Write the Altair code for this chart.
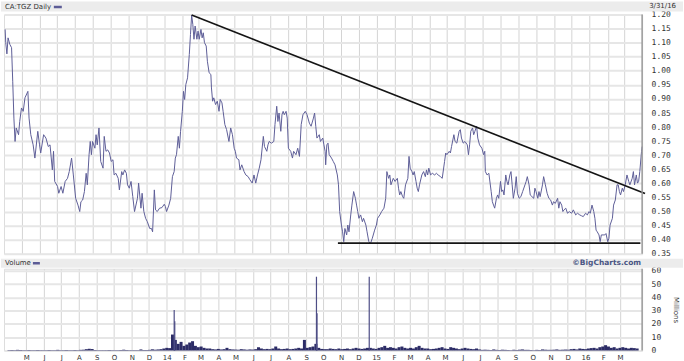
import altair as alt
import pandas as pd

START = pd.Timestamp("2013-04-01")

# (calendar-day offset from START, close)
price_2013 = [(2,1.147),(3,1.100),(5,1.060),(7,1.117),(10,1.094),(13,1.082),(15,0.963),(17,0.832),(19,0.749),(21,0.797),
 (25,0.773),(27,0.820),(30,0.868),(33,0.856),(36,0.904),(41,0.927),(43,0.832),(46,0.773),(50,0.737),(53,0.690),
 (58,0.785),(61,0.737),(63,0.708),(68,0.773),(72,0.761),(76,0.731),(79,0.737),(83,0.648),(85,0.714),(87,0.607),
 (92,0.589),(94,0.565),(98,0.589),(101,0.565),(105,0.607),(109,0.618),(112,0.642),(116,0.690),(119,0.630),(123,0.547),
 (127,0.523),(130,0.500),(132,0.535),(135,0.541),(138,0.571),(141,0.636),(143,0.595),(146,0.702),(148,0.749),(150,0.702),
 (152,0.749),(156,0.725),(158,0.773),(160,0.737),(163,0.797),(166,0.678),(170,0.654),(172,0.767),(175,0.714),(178,0.719),
 (181,0.708),(184,0.678),(187,0.684),(189,0.630),(192,0.636),(196,0.618),(198,0.577),(202,0.642),(204,0.630),(207,0.648),
 (210,0.636),(212,0.595),(215,0.583),(218,0.607),(221,0.553),(224,0.500),(229,0.547),(231,0.601),(235,0.512),(237,0.565),
 (240,0.500),(243,0.476),(246,0.464),(250,0.440),(253,0.440),(255,0.428),(258,0.577),(260,0.506),(263,0.500),(267,0.512),
 (271,0.514)]
price_2014 = [(275,0.526),(277,0.518),(279,0.500),(283,0.523),(286,0.547),(289,0.624),(292,0.642),(294,0.690),(296,0.702),
 (299,0.767),(301,0.725),(303,0.785),(306,0.856),(308,0.927),(310,0.898),(312,0.951),(315,0.975),(318,1.058),(320,1.129),
 (322,1.198),(324,1.165),(326,1.112),(328,1.159),(331,1.112),(333,1.141),(335,1.112),(338,1.147),(340,1.117),(342,1.135),
 (344,1.100),(347,1.088),(349,1.034),(352,0.993),(355,0.987),(356,0.939),(358,0.892),(360,0.904),(363,0.880),(366,0.892),
 (369,0.856),(371,0.898),(374,0.886),(376,0.856),(379,0.809),(382,0.791),(386,0.749),(389,0.797),(392,0.773),(395,0.725),
 (397,0.714),(399,0.690),(403,0.684),(405,0.648),(408,0.666),(412,0.642),(415,0.630),(419,0.624),(422,0.613),(426,0.601),
 (429,0.630),(432,0.601),(435,0.630),(438,0.654),(441,0.684),(445,0.767),(447,0.731),(451,0.714),(453,0.737),(455,0.749),
 (459,0.743),(463,0.749),(465,0.809),(468,0.874),(470,0.820),(472,0.850),(475,0.785),(477,0.844),(479,0.856),(481,0.844),
 (484,0.856),(486,0.832),(488,0.725),(492,0.714),(495,0.690),(497,0.714),(501,0.702),(504,0.725),(507,0.696),(510,0.809),
 (513,0.844),(517,0.856),(520,0.844),(524,0.814),(527,0.803),(531,0.832),(533,0.850),(535,0.803),(537,0.761),(541,0.773),
 (543,0.749),(547,0.761),(549,0.737),(551,0.714),(552,0.666),(554,0.737),(556,0.743),(558,0.702),(562,0.690),(565,0.678),
 (568,0.666),(572,0.630),(574,0.595),(576,0.500),(579,0.452),(581,0.428),(583,0.393),(585,0.440),(588,0.417),(590,0.452),
 (592,0.428),(595,0.488),(597,0.523),(600,0.571),(603,0.547),(605,0.523),(607,0.500),(609,0.476),(612,0.488),(615,0.464),
 (617,0.476),(621,0.452),(623,0.428),(626,0.393),(629,0.387),(632,0.405),(636,0.434),(639,0.452)]
price_2015 = [(641,0.476),(645,0.488),(648,0.500),(652,0.512),(655,0.547),(657,0.642),(660,0.618),(662,0.630),(664,0.595),
 (668,0.618),(671,0.607),(675,0.618),(677,0.583),(679,0.559),(681,0.571),(684,0.553),(686,0.547),(689,0.595),(693,0.618),
 (695,0.696),(697,0.654),(700,0.642),(702,0.630),(704,0.642),(707,0.607),(709,0.583),(711,0.571),(713,0.595),(717,0.630),
 (720,0.642),(723,0.624),(725,0.648),(727,0.630),(729,0.654),(732,0.630),(735,0.636),(739,0.630),(742,0.636),(745,0.630),
 (749,0.624),(752,0.618),(756,0.678),(758,0.708),(760,0.702),(764,0.714),(766,0.708),(768,0.731),(772,0.773),(774,0.749),
 (777,0.743),(781,0.785),(783,0.791),(785,0.761),(788,0.743),(791,0.749),(795,0.737),(797,0.702),(799,0.737),(801,0.785),
 (804,0.797),(806,0.773),(808,0.785),(811,0.803),(813,0.761),(816,0.737),(820,0.725),(823,0.702),(825,0.714),(826,0.642),
 (829,0.630),(832,0.636),(836,0.571),(838,0.535),(840,0.523),(842,0.512),(845,0.547),(847,0.559),(849,0.547),(852,0.607),
 (854,0.571),(856,0.577),(858,0.559),(861,0.630),(863,0.607),(865,0.595),(868,0.630),(870,0.642),(872,0.595),(874,0.547),
 (877,0.583),(879,0.624),(881,0.565),(884,0.547),(887,0.553),(890,0.571),(894,0.595),(896,0.607),(898,0.624),(901,0.595),
 (903,0.559),(906,0.553),(909,0.547),(911,0.583),(913,0.571),(916,0.547),(918,0.571),(920,0.553),(924,0.595),(926,0.624),
 (929,0.595),(932,0.565),(935,0.547),(938,0.541),(941,0.523),(943,0.535),(946,0.529),(950,0.547),(952,0.512),(954,0.535),
 (957,0.523),(959,0.500),(961,0.506),(964,0.512),(967,0.494),(970,0.500),(974,0.494),(977,0.506),(981,0.488),(984,0.494),
 (988,0.488),(991,0.485),(994,0.482),(998,0.494),(1001,0.488),(1004,0.500)]
price_2016 = [(1006,0.494),(1009,0.523),(1012,0.500),(1014,0.476),(1016,0.434),(1018,0.428),(1021,0.417),(1023,0.393),
 (1025,0.417),(1028,0.417),(1031,0.417),(1033,0.422),(1036,0.393),(1038,0.405),(1040,0.452),(1044,0.476),(1046,0.523),
 (1049,0.541),(1052,0.595),(1054,0.595),(1056,0.571),(1058,0.559),(1061,0.583),(1063,0.571),(1066,0.595),(1069,0.630),
 (1072,0.607),(1074,0.595),(1078,0.618),(1080,0.642),(1082,0.595),(1085,0.630),(1087,0.601),(1089,0.607),(1091,0.642),
 (1094,0.714),(1095,0.731)]

# trend lines (day offset, price)
resistance = [(322, 1.198), (1100, 0.564)]
support = [(573, 0.388), (1092, 0.388)]

# volume (millions), one reading every 5 days from START
vol_every5 = [0.3,0.4,0.3,0.5,0.4,0.3,0.3,0.4,0.3,0.3,0.4,0.3,0.3,0.3,0.4,0.3,0.3,0.5,0.3,0.3,0.4,0.3,0.3,0.4,0.3,0.5,0.6,
 1.0,1.3,1.1,
 0.4,0.3,0.3,0.3,0.3,0.4,0.3,0.3,0.3,0.4,0.6,0.4,0.3,0.3,0.3,0.3,0.8,0.4,0.4,0.5,0.9,0.6,
 0.8,1.0,1.5,2.0,1.8,
 12.0,8.0,
 5.0,6.5,3.5,4.5,6.0,7.0,3.5,2.5,3.0,2.0,1.5,
 1.5,1.0,0.8,1.2,0.8,1.0,2.0,1.0,0.8,0.7,0.6,1.0,0.8,0.6,0.8,0.7,1.0,2.5,1.5,1.0,1.2,1.0,1.5,3.0,1.5,1.0,1.2,1.5,
 1.0,1.2,1.5,2.0,1.5,8.0,2.0,2.5,3.0,5.0,
 2.0,1.2,1.0,1.0,1.5,1.2,1.0,1.5,1.0,1.2,1.5,1.0,1.5,2.0,1.5,1.2,1.5,2.0,
 2.0,1.5,1.2,2.0,2.5,3.5,2.0,2.5,2.0,1.5,2.5,3.0,2.0,1.5,2.0,1.5,2.5,3.5,2.0,1.5,1.5,1.0,1.2,1.5,2.0,2.5,1.5,1.2,2.5,2.0,1.5,1.0,1.5,2.0,1.5,1.2,1.0,1.5,
 0.8,0.5,0.6,0.5,0.4,0.8,0.5,0.4,0.6,0.5,0.4,0.3,0.5,0.4,0.6,0.8,0.5,0.5,0.4,0.3,0.5,0.4,0.8,0.6,0.5,0.5,0.6,0.8,0.5,0.6,0.7,0.6,
 1.0,1.2,0.8,1.5,1.2,1.0,1.5,1.8,2.0,1.5,2.5,3.0,4.0,3.0,2.0,2.5,1.5,2.0,2.5,2.0,1.5,2.0,1.8,1.5]
spike_days = [288, 289, 536, 537, 628]
spike_vols = [30.5, 22.0, 55.5, 28.0, 55.5]

price_ticks = [0.35,0.40,0.45,0.50,0.55,0.60,0.65,0.70,0.75,0.80,0.85,0.90,0.95,1.00,1.05,1.10,1.15,1.20]
vol_ticks = [0,10,20,30,40,50,60]
month_ticks = [(2013,m) for m in range(5,13)] + [(2014,m) for m in range(1,13)] + \
              [(2015,m) for m in range(1,13)] + [(2016,m) for m in range(1,4)]


def day_to_date(d):
    return START + pd.Timedelta(days=d)


price_df = pd.DataFrame(price_2013 + price_2014 + price_2015 + price_2016, columns=["day", "close"])
price_df["date"] = price_df["day"].map(day_to_date)
res_df = pd.DataFrame(resistance, columns=["day", "close"]); res_df["date"] = res_df["day"].map(day_to_date)
sup_df = pd.DataFrame(support, columns=["day", "close"]); sup_df["date"] = sup_df["day"].map(day_to_date)
vol_df = pd.DataFrame({"day": list(range(0, 5 * len(vol_every5), 5)), "vol": vol_every5})
vol_df["date"] = vol_df["day"].map(day_to_date)
spk_df = pd.DataFrame({"day": spike_days, "vol": spike_vols}); spk_df["date"] = spk_df["day"].map(day_to_date)

tick_vals = [alt.DateTime(year=y, month=m, date=1) for y, m in month_ticks]
xscale = alt.Scale(domain=[alt.DateTime(year=2013, month=4, date=1), alt.DateTime(year=2016, month=3, date=31)])

TXT = "#333333"
FONT = "DejaVu Sans"
one = pd.DataFrame({"a": [0]})

W = 640
PH = 240
VH = 82

# ---------- price panel ----------
x_price = alt.X("date:T", scale=xscale, title=None,
                axis=alt.Axis(values=tick_vals, tickCount=100, labels=False, ticks=False, domain=False, grid=True,
                              gridColor="#d4d4d4", gridWidth=1))
y_price = alt.Y("close:Q", scale=alt.Scale(domain=[0.35, 1.20], nice=False, zero=False), title=None,
                axis=alt.Axis(orient="right", values=price_ticks, tickCount=100, format=".2f", ticks=False,
                              domain=False, grid=True, gridColor="#e6e6e6", gridWidth=2, labelPadding=9,
                              labelFont="DejaVu Sans Mono", labelFontSize=8, labelColor=TXT,
                              labelOverlap=False, labelFlush=False))

price_line = alt.Chart(price_df).mark_line(color="#5e5e98", strokeWidth=1).encode(x=x_price, y=y_price)
res_line = alt.Chart(res_df).mark_line(color="#151515", strokeWidth=1.6, clip=False).encode(x="date:T", y="close:Q")
sup_line = alt.Chart(sup_df).mark_line(color="#151515", strokeWidth=1.6).encode(x="date:T", y="close:Q")
right_edge = alt.Chart(one).mark_rule(color="#9a9a9a", strokeWidth=1.5).encode(
    x=alt.value(W), y=alt.value(0), y2=alt.value(PH))

hdr_bar = alt.Chart(one).mark_rect(color="#ececec").encode(
    x=alt.value(-3), x2=alt.value(681), y=alt.value(-13), y2=alt.value(-3))
hdr_txt = alt.Chart(one).mark_text(align="left", baseline="middle", font=FONT, fontSize=7, color=TXT).encode(
    x=alt.value(1), y=alt.value(-7.5), text=alt.value("CA:TGZ Daily"))
hdr_sw = alt.Chart(one).mark_rule(color="#5c5c96", strokeWidth=2.5).encode(
    x=alt.value(50), x2=alt.value(58), y=alt.value(-7.5))
hdr_date = alt.Chart(one).mark_text(align="right", baseline="middle", font=FONT, fontSize=7, color=TXT).encode(
    x=alt.value(674), y=alt.value(-8.5), text=alt.value("3/31/16"))

price_panel = alt.layer(hdr_bar, hdr_txt, hdr_sw, hdr_date, price_line, res_line, sup_line, right_edge).properties(
    width=W, height=PH)

# ---------- volume panel ----------
x_vol = alt.X("date:T", scale=xscale, title=None,
              axis=alt.Axis(values=tick_vals, tickCount=100, ticks=False, domain=False, grid=True,
                            gridColor="#d4d4d4", gridWidth=1, labelFont=FONT, labelFontSize=7, labelColor=TXT,
                            labelPadding=3, labelOverlap=False, labelFlush=False,
                            labelExpr="month(datum.value) == 0 ? timeFormat(datum.value, '%y') : slice(timeFormat(datum.value, '%b'), 0, 1)"))
y_vol = alt.Y("vol:Q", scale=alt.Scale(domain=[0, 61.5], nice=False), title="Millions",
              axis=alt.Axis(orient="right", values=vol_ticks, tickCount=100, format="d", ticks=False,
                            domain=False, grid=True,
                            gridColor="#e6e6e6", gridWidth=2, labelPadding=9, labelFont="DejaVu Sans Mono",
                            labelFontSize=8, labelColor=TXT, labelOverlap=False, labelFlush=False,
                            titleAngle=90, titleFont=FONT, titleFontSize=7, titleFontWeight="normal",
                            titleColor=TXT, titleX=33, titleY=41, titleAlign="center", titleBaseline="middle"))

vol_bars = alt.Chart(vol_df).mark_bar(width=3, color="#2c2c66").encode(x=x_vol, y=y_vol)
spk_bars = alt.Chart(spk_df).mark_bar(width=1.2, color="#4e4e86").encode(x="date:T", y="vol:Q")
vright = alt.Chart(one).mark_rule(color="#9a9a9a", strokeWidth=1.5).encode(
    x=alt.value(W), y=alt.value(0), y2=alt.value(VH))
vhdr_bar = alt.Chart(one).mark_rect(color="#ececec").encode(
    x=alt.value(-3), x2=alt.value(681), y=alt.value(-10), y2=alt.value(-1))
vhdr_txt = alt.Chart(one).mark_text(align="left", baseline="middle", font=FONT, fontSize=7, color=TXT).encode(
    x=alt.value(1), y=alt.value(-5.5), text=alt.value("Volume"))
vhdr_sw = alt.Chart(one).mark_rule(color="#5c5c96", strokeWidth=2.5).encode(
    x=alt.value(29), x2=alt.value(36), y=alt.value(-5.5))
vhdr_bc = alt.Chart(one).mark_text(align="right", baseline="middle", font=FONT, fontSize=7.5, fontWeight="bold",
                                   color="#4a5684").encode(
    x=alt.value(639), y=alt.value(-5.5), text=alt.value("©BigCharts.com"))

vol_panel = alt.layer(vhdr_bar, vhdr_txt, vhdr_sw, vhdr_bc, vol_bars, spk_bars, vright).properties(
    width=W, height=VH)

chart = alt.vconcat(price_panel, vol_panel, spacing=15, bounds="flush").properties(padding=0).configure_view(
    stroke="#c4c4c4", strokeWidth=1).configure(background="white")

chart.save("out.html", embed_options={"renderer": "svg", "actions": False})
